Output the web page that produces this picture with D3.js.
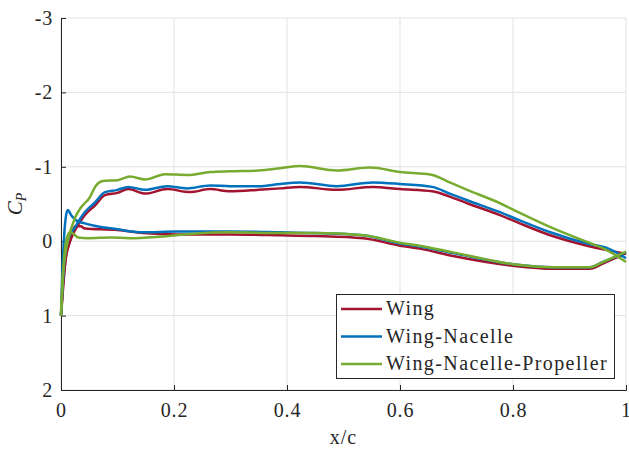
<!DOCTYPE html>
<html>
<head>
<meta charset="utf-8">
<script src="https://cdn.jsdelivr.net/npm/d3@7"></script>
<style>
  body { margin: 0; background: #fff; }
</style>
</head>
<body>
<script>
// pressure coefficient, [x/c, Cp]
const wingUpper = [[0,1],[0.0035,0.6],[0.008,0.25],[0.016,0],[0.025,-0.15],[0.042,-0.35],[0.06,-0.48],[0.078,-0.62],[0.1,-0.65],[0.119,-0.70],[0.149,-0.64],[0.188,-0.70],[0.228,-0.66],[0.264,-0.70],[0.299,-0.67],[0.35,-0.69],[0.388,-0.71],[0.423,-0.73],[0.488,-0.69],[0.552,-0.73],[0.6,-0.70],[0.657,-0.67],[0.688,-0.60],[0.719,-0.51],[0.777,-0.35],[0.812,-0.24],[0.866,-0.08],[0.931,0.06],[0.966,0.12],[1,0.17]];
const wingLower = [[0,1],[0.004,0.6],[0.008,0.25],[0.016,0],[0.025,-0.2],[0.035,-0.2],[0.042,-0.17],[0.1,-0.15],[0.145,-0.11],[0.205,-0.09],[0.3,-0.09],[0.388,-0.08],[0.45,-0.07],[0.535,-0.04],[0.6,0.06],[0.635,0.10],[0.694,0.2],[0.8,0.33],[0.871,0.37],[0.936,0.37],[0.959,0.3],[1,0.16]];
const nacelleUpper = [[0,1],[0.003,0.6],[0.007,0.2],[0.012,0],[0.025,-0.19],[0.042,-0.39],[0.06,-0.52],[0.078,-0.66],[0.1,-0.69],[0.119,-0.73],[0.149,-0.69],[0.188,-0.74],[0.223,-0.71],[0.264,-0.75],[0.299,-0.74],[0.35,-0.74],[0.388,-0.77],[0.423,-0.79],[0.488,-0.74],[0.552,-0.79],[0.6,-0.77],[0.657,-0.73],[0.688,-0.64],[0.719,-0.55],[0.777,-0.39],[0.812,-0.28],[0.866,-0.12],[0.931,0.03],[0.966,0.09],[1,0.23]];
const nacelleLower = [[0,1],[0.002,0.5],[0.005,0],[0.009,-0.35],[0.012,-0.42],[0.018,-0.35],[0.027,-0.28],[0.042,-0.24],[0.1,-0.16],[0.145,-0.12],[0.205,-0.13],[0.3,-0.13],[0.388,-0.12],[0.45,-0.11],[0.535,-0.08],[0.6,0.03],[0.635,0.07],[0.694,0.16],[0.8,0.31],[0.871,0.35],[0.936,0.35],[0.959,0.28],[1,0.15]];
const propUpper = [[0,1],[0.003,0.5],[0.007,0.2],[0.012,0],[0.025,-0.32],[0.035,-0.45],[0.051,-0.59],[0.062,-0.75],[0.074,-0.81],[0.1,-0.82],[0.122,-0.87],[0.149,-0.83],[0.184,-0.9],[0.223,-0.89],[0.264,-0.93],[0.299,-0.94],[0.35,-0.95],[0.388,-0.98],[0.423,-1.01],[0.488,-0.95],[0.547,-0.99],[0.6,-0.93],[0.657,-0.89],[0.688,-0.79],[0.719,-0.69],[0.777,-0.51],[0.812,-0.38],[0.866,-0.19],[0.931,0.01],[0.966,0.12],[1,0.28]];
const propLower = [[0,1],[0.003,0.5],[0.007,0.1],[0.012,-0.08],[0.016,-0.12],[0.022,-0.1],[0.03,-0.05],[0.048,-0.04],[0.087,-0.05],[0.122,-0.04],[0.175,-0.06],[0.234,-0.1],[0.299,-0.12],[0.388,-0.11],[0.45,-0.11],[0.535,-0.08],[0.6,0.02],[0.635,0.06],[0.694,0.15],[0.8,0.31],[0.871,0.35],[0.936,0.35],[0.959,0.28],[1,0.14]];

const seriesNames = ["Wing", "Wing-Nacelle", "Wing-Nacelle-Propeller"];
const seriesColors = ["#A2142F", "#0072BD", "#77AC30"];
const seriesData = [[wingUpper, wingLower], [nacelleUpper, nacelleLower], [propUpper, propLower]];

const xTicks = [0, 0.2, 0.4, 0.6, 0.8, 1];
const yTicks = [-3, -2, -1, 0, 1, 2];

const W = 629, H = 451;
const mLeft = 61, mRight = 626, mTop = 18, mBottom = 390;
const serif = "'Liberation Serif', 'Times New Roman', serif";
const ink = "#262626";

var svg = d3.select("body").append("svg")
    .attr("width", W)
    .attr("height", H);

var x = d3.scaleLinear().domain([0, 1]).range([mLeft, mRight]);
var y = d3.scaleLinear().domain([-3, 2]).range([mTop, mBottom]);

// grid
svg.append("g").selectAll("line").data(xTicks).join("line")
    .attr("x1", d => x(d)).attr("x2", d => x(d))
    .attr("y1", mTop).attr("y2", mBottom)
    .attr("stroke", "#e3e3e3").attr("stroke-width", 1);
svg.append("g").selectAll("line").data(yTicks).join("line")
    .attr("x1", mLeft).attr("x2", mRight)
    .attr("y1", d => y(d)).attr("y2", d => y(d))
    .attr("stroke", "#e3e3e3").attr("stroke-width", 1);

// axes, ticks inward
var xAxis = svg.append("g")
    .attr("transform", `translate(0,${mBottom})`)
    .call(d3.axisBottom(x).tickValues(xTicks).tickSize(-5).tickPadding(13).tickFormat(d => String(d)));
var yAxis = svg.append("g")
    .attr("transform", `translate(${mLeft},0)`)
    .call(d3.axisLeft(y).tickValues(yTicks).tickSize(-5).tickPadding(8).tickFormat(d => String(d)));

[xAxis, yAxis].forEach(a => {
    a.attr("font-family", null);
    a.select(".domain").attr("stroke", ink).attr("stroke-width", 1);
    a.selectAll(".tick line").attr("stroke", ink);
    a.selectAll(".tick text")
      .style("font-family", serif)
      .style("font-size", "20px")
      .style("letter-spacing", "0.8px")
      .style("fill", ink);
});

// curves
var line = d3.line()
    .x(d => x(d[0]))
    .y(d => y(d[1]))
    .curve(d3.curveMonotoneX);

seriesData.forEach((surfaces, i) => {
    surfaces.forEach(s => {
        svg.append("path")
          .datum(s)
          .attr("d", line)
          .attr("fill", "none")
          .attr("stroke", seriesColors[i])
          .attr("stroke-width", 2.5)
          .attr("stroke-linejoin", "round");
    });
});

// labels
svg.append("text")
    .attr("x", (mLeft + mRight) / 2)
    .attr("y", 444)
    .attr("text-anchor", "middle")
    .style("font-family", serif)
    .style("font-size", "20px")
    .style("letter-spacing", "1px")
    .style("fill", ink)
    .text("x/c");

var yl = svg.append("text")
    .attr("transform", `translate(22,${(mTop + mBottom) / 2}) rotate(-90)`)
    .attr("text-anchor", "middle")
    .style("font-family", serif)
    .style("font-size", "21px")
    .style("font-style", "italic")
    .style("fill", ink);
yl.append("tspan").text("C");
yl.append("tspan").style("font-size", "14px").attr("dy", 4).text("P");

// legend
var lg = svg.append("g");
lg.append("rect")
    .attr("x", 336.5).attr("y", 294.5)
    .attr("width", 278).attr("height", 84)
    .attr("fill", "#fff")
    .attr("stroke", ink).attr("stroke-width", 1);
seriesNames.forEach((name, i) => {
    var ly = 309 + i * 27.5;
    lg.append("line")
      .attr("x1", 341).attr("x2", 382)
      .attr("y1", ly).attr("y2", ly)
      .attr("stroke", seriesColors[i]).attr("stroke-width", 2.5);
    lg.append("text")
      .attr("x", 386).attr("y", ly + 6)
      .style("font-family", serif)
      .style("font-size", "20px")
      .style("letter-spacing", "1.4px")
      .style("fill", ink)
      .text(name);
});
</script>
</body>
</html>
